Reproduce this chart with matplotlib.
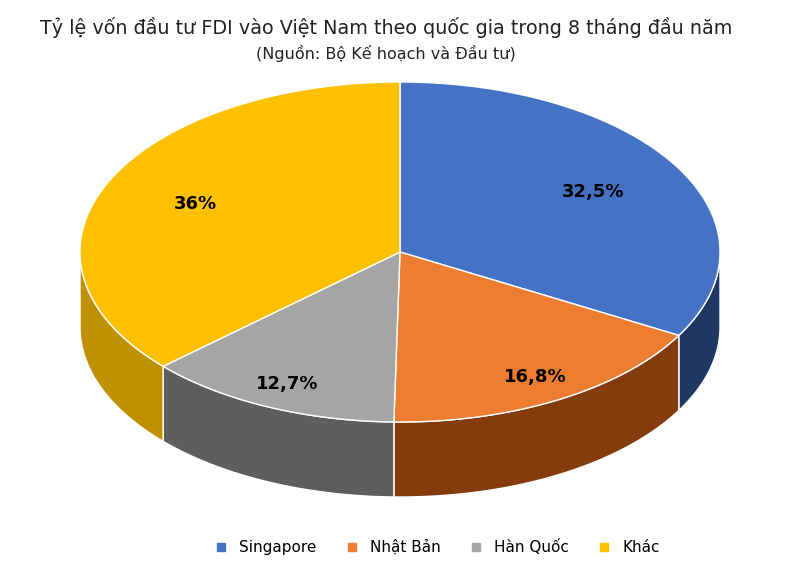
import numpy as np
import matplotlib
matplotlib.use("Agg")
import matplotlib.pyplot as plt
from matplotlib.patches import Polygon

categories = ["Singapore", "Nhật Bản", "Hàn Quốc", "Khác"]
values = [32.5, 16.8, 12.7, 36]
labels = ["32,5%", "16,8%", "12,7%", "36%"]
top_colors = ["#4472C4", "#ED7D31", "#A5A5A5", "#FFC000"]
side_colors = ["#1F3864", "#843C0C", "#5E5E5E", "#BF9000"]
label_r = [0.7, 0.85, 0.85, 0.7]

W, H = 802, 570
fig = plt.figure(figsize=(W/100, H/100), dpi=100)
ax = fig.add_axes([0, 0, 1, 1])
ax.set_xlim(0, W); ax.set_ylim(H, 0); ax.axis("off")

cx, cy, rx, ry, depth = 400, 252, 320, 170, 75
fr = np.array(values) / sum(values)
bounds = np.concatenate([[0], np.cumsum(fr)]) * 2 * np.pi

def pt(t, dz=0):
    return cx + rx*np.sin(t), cy - ry*np.cos(t) + dz

for i in range(len(values)):
    a, b = max(bounds[i], np.pi/2), min(bounds[i+1], 3*np.pi/2)
    if b <= a: continue
    t = np.linspace(a, b, 200)
    x, y = pt(t)
    poly = np.column_stack([np.concatenate([x, x[::-1]]), np.concatenate([y, (y+depth)[::-1]])])
    ax.add_patch(Polygon(poly, closed=True, fc=side_colors[i], ec="white", lw=1))

for i in range(len(values)):
    t = np.linspace(bounds[i], bounds[i+1], 300)
    x, y = pt(t)
    poly = np.column_stack([np.concatenate([[cx], x]), np.concatenate([[cy], y])])
    ax.add_patch(Polygon(poly, closed=True, fc=top_colors[i], ec="white", lw=1))
    m = (bounds[i] + bounds[i+1]) / 2
    lx, ly = cx + label_r[i]*rx*np.sin(m), cy - label_r[i]*ry*np.cos(m)
    ax.text(lx, ly, labels[i], ha="center", va="center", fontsize=13, fontweight="bold", color="black")

ax.text(386, 27, "Tỷ lệ vốn đầu tư FDI vào Việt Nam theo quốc gia trong 8 tháng đầu năm",
        ha="center", va="center", fontsize=13.8, color="#222222")
ax.text(386, 54, "(Nguồn: Bộ Kế hoạch và Đầu tư)", ha="center", va="center", fontsize=11.5, color="#222222")

handles = [plt.Line2D([], [], marker="s", ls="", color=c, markersize=6) for c in top_colors]
fig.legend(handles, categories, loc="center", bbox_to_anchor=(433/W, 1-547/H), ncol=4,
           frameon=False, fontsize=11, handletextpad=0.2, columnspacing=1.3)
fig.savefig("out.png", dpi=100)
